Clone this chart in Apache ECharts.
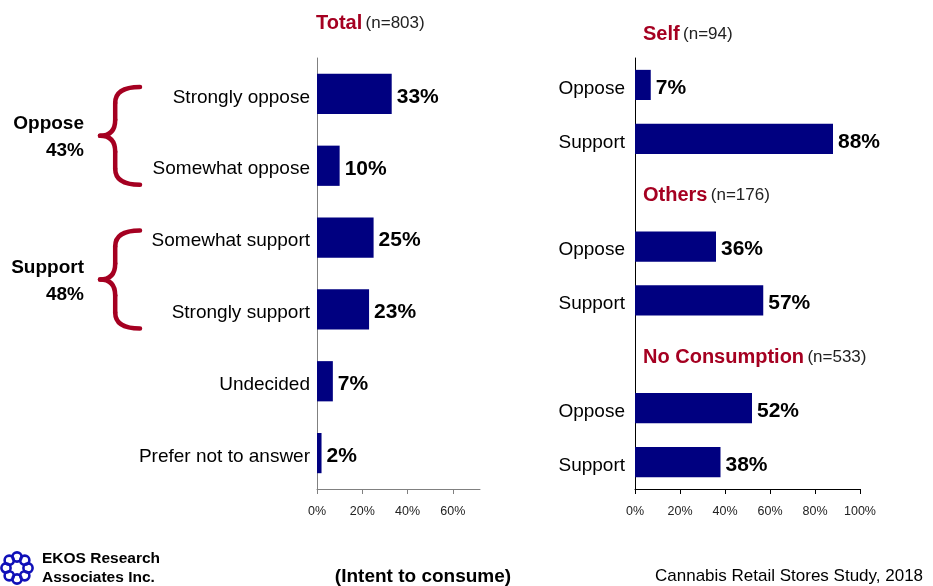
<!DOCTYPE html>
<html>
<head>
<meta charset="utf-8">
<script src="https://cdn.jsdelivr.net/npm/echarts@6/dist/echarts.min.js"></script>
<style>
  html, body { margin: 0; padding: 0; background: #ffffff; }
  #chart { width: 933px; height: 586px; }
</style>
</head>
<body>
<div id="chart"></div>
<script>
// Total sample: support / opposition for cannabis retail stores
const totalCategories = ['Strongly oppose', 'Somewhat oppose', 'Somewhat support', 'Strongly support', 'Undecided', 'Prefer not to answer'];
const totalValues = [33, 10, 25, 23, 7, 2];
const totalTicks = [0, 20, 40, 60];

// Net opposition / support (brace groups on the left)
const netLabels = ['Oppose', 'Support'];
const netValues = [43, 48];

// Breakdown by intent to consume
const groupNames = ['Self', 'Others', 'No Consumption'];
const groupSizes = ['(n=94)', '(n=176)', '(n=533)'];
const groupCategories = ['Oppose', 'Support'];
const selfValues = [7, 88];
const othersValues = [36, 57];
const noConsumptionValues = [52, 38];
const groupTicks = [0, 20, 40, 60, 80, 100];

const FONT = '"Liberation Sans", Arial, Helvetica, sans-serif';
const NAVY = '#000080';
const CRIMSON = '#A50021';

// Right-hand category axis: a blank header slot precedes every group but the first
const groupValueSets = [selfValues, othersValues, noConsumptionValues];
const rightCategories = [];
const rightValues = [];
const headerSlots = [];
groupValueSets.forEach(function (vals, g) {
  if (g > 0) {
    headerSlots.push(rightCategories.length);
    rightCategories.push('');
    rightValues.push(null);
  }
  groupCategories.forEach(function (c, i) {
    rightCategories.push(c);
    rightValues.push(vals[i]);
  });
});

const chart = echarts.init(document.getElementById('chart'), null, { renderer: 'canvas' });

const valueLabel = {
  show: true,
  position: 'right',
  distance: 5,
  offset: [0, 3],
  formatter: '{c}%',
  fontFamily: FONT,
  fontWeight: 'bold',
  fontSize: 21,
  color: '#000000'
};

function valueAxis(gridIndex, max, ticks, lineColor) {
  return {
    type: 'value',
    gridIndex: gridIndex,
    min: 0,
    max: max,
    axisLine: { show: true, lineStyle: { color: lineColor, width: 1 } },
    axisTick: { show: true, length: 5, customValues: ticks, lineStyle: { color: lineColor } },
    axisLabel: {
      customValues: ticks,
      formatter: '{value}%',
      fontFamily: FONT,
      fontSize: 12.5,
      color: '#222222',
      margin: 16
    },
    splitLine: { show: false }
  };
}

function categoryAxis(gridIndex, data, lineColor, margin) {
  return {
    type: 'category',
    gridIndex: gridIndex,
    data: data,
    inverse: true,
    axisLine: { show: true, lineStyle: { color: lineColor, width: 1 } },
    axisTick: { show: false },
    axisLabel: {
      margin: margin,
      formatter: function (v) { return v ? '{c|' + v + '}' : ''; },
      rich: {
        c: { fontFamily: FONT, fontSize: 19, color: '#000000', padding: [7, 0, 0, 0] }
      }
    }
  };
}

chart.setOption({
  animation: false,
  backgroundColor: '#ffffff',
  grid: [
    { left: 317, top: 58, width: 163, height: 431 },
    { left: 635, top: 58, width: 225, height: 431 }
  ],
  xAxis: [
    valueAxis(0, 72, totalTicks, '#808080'),
    valueAxis(1, 100, groupTicks, '#000000')
  ],
  yAxis: [
    categoryAxis(0, totalCategories, '#808080', 7),
    categoryAxis(1, rightCategories, '#000000', 10)
  ],
  series: [
    {
      type: 'bar', xAxisIndex: 0, yAxisIndex: 0,
      data: totalValues, barWidth: '56%',
      itemStyle: { color: NAVY },
      label: valueLabel
    },
    {
      type: 'bar', xAxisIndex: 1, yAxisIndex: 1,
      data: rightValues, barWidth: '56%',
      itemStyle: { color: NAVY },
      label: valueLabel
    }
  ]
});

// ---- annotations placed from the axes ----
function yLeft(i) { return chart.convertToPixel({ yAxisIndex: 0 }, i); }
function yRight(i) { return chart.convertToPixel({ yAxisIndex: 1 }, i); }
const xLeftAxis = chart.convertToPixel({ xAxisIndex: 0 }, 0);
const xRightAxis = chart.convertToPixel({ xAxisIndex: 1 }, 0);
const bandRight = yRight(1) - yRight(0);

function titleText(x, y, name, size) {
  return {
    type: 'text', x: x, y: y,
    style: {
      text: '{t|' + name + '} {n|' + size + '}',
      verticalAlign: 'middle',
      rich: {
        t: { fontFamily: FONT, fontWeight: 'bold', fontSize: 20, fill: CRIMSON },
        n: { fontFamily: FONT, fontSize: 17, fill: '#222222' }
      }
    }
  };
}

// Curly brace built from quadratic curves and straight runs
function brace(xEnd, xTip, top, mid, bottom) {
  const xv = xTip + (xEnd - xTip) * 0.38;
  const r = 16;
  const st = { fill: 'none', stroke: CRIMSON, lineWidth: 4.5, lineCap: 'round' };
  function curve(x1, y1, cx, cy, x2, y2) {
    return { type: 'bezierCurve', shape: { x1: x1, y1: y1, cpx1: cx, cpy1: cy, x2: x2, y2: y2 }, style: st };
  }
  function seg(x1, y1, x2, y2) {
    return { type: 'line', shape: { x1: x1, y1: y1, x2: x2, y2: y2 }, style: st };
  }
  return {
    type: 'group',
    children: [
      curve(xEnd, top, xv, top, xv, top + r),
      seg(xv, top + r, xv, mid - r),
      curve(xv, mid - r, xv, mid, xTip, mid),
      curve(xTip, mid, xv, mid, xv, mid + r),
      seg(xv, mid + r, xv, bottom - r),
      curve(xv, bottom - r, xv, bottom, xEnd, bottom)
    ]
  };
}

function plainText(x, y, text, align, size, bold) {
  return {
    type: 'text', x: x, y: y,
    style: {
      text: text, align: align, verticalAlign: 'middle', fontFamily: FONT,
      fontWeight: bold ? 'bold' : 'normal', fontSize: size, fill: '#000000'
    }
  };
}

const graphics = [];

// Panel titles
graphics.push(titleText(xLeftAxis - 1, 23, 'Total', '(n=803)'));
groupNames.forEach(function (name, g) {
  const y = g === 0 ? yRight(0) - bandRight + 3 : yRight(headerSlots[g - 1]) + 3;
  graphics.push(titleText(xRightAxis + 8, y, name, groupSizes[g]));
});

// Braces with net totals
netLabels.forEach(function (label, k) {
  const top = yLeft(2 * k) - 7;
  const bottom = yLeft(2 * k + 1) + 19;
  const mid = (top + bottom) / 2;
  graphics.push(brace(140, 100, top, mid, bottom));
  graphics.push(plainText(84, mid - 12, label, 'right', 19, true));
  graphics.push(plainText(84, mid + 15, netValues[k] + '%', 'right', 19, true));
});

// Footer
graphics.push(plainText(423, 577, '(Intent to consume)', 'center', 19, true));
graphics.push(plainText(655, 576, 'Cannabis Retail Stores Study, 2018', 'left', 17, false));
graphics.push(plainText(42, 559, 'EKOS Research', 'left', 15.5, true));
graphics.push(plainText(42, 578, 'Associates Inc.', 'left', 15.5, true));

// Company logo: a ring of linked loops
const logoLinks = [];
for (let i = 0; i < 8; i++) {
  const a = (Math.PI * 2 * i) / 8;
  logoLinks.push({
    type: 'circle',
    shape: { cx: 17 + 11 * Math.cos(a), cy: 568 + 11 * Math.sin(a), r: 4.6 },
    style: { fill: 'none', stroke: '#1010B8', lineWidth: 2.6 }
  });
}
graphics.push({ type: 'group', children: logoLinks });

chart.setOption({ graphic: graphics });
</script>
</body>
</html>
